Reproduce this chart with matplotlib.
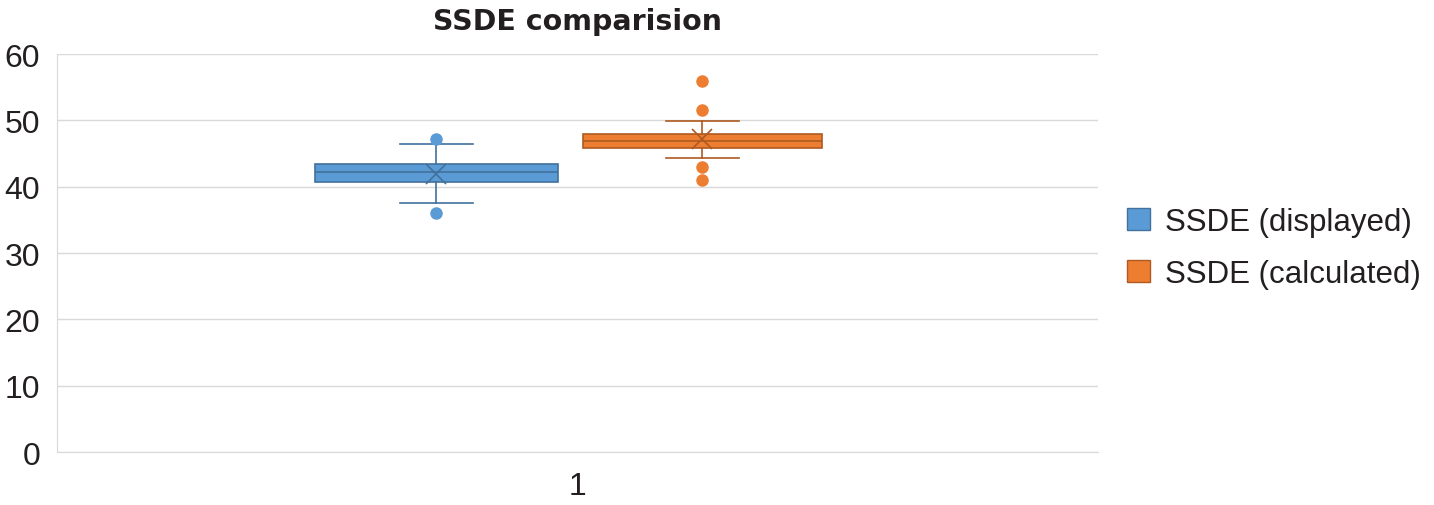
import matplotlib.pyplot as plt

# box statistics
SERIES = ['SSDE (displayed)', 'SSDE (calculated)']
Q1 = [40.7, 45.8]
MEDIAN = [42.2, 46.9]
Q3 = [43.4, 47.9]
WHISLO = [37.6, 44.3]
WHISHI = [46.5, 49.9]
MEAN = [41.9, 47.2]
FLIERS = [[47.2, 36.0], [55.9, 51.6, 42.9, 41.0]]
CATEGORY = ['1']

FACE = ['#5B9BD5', '#ED7D31']
EDGE = ['#41719C', '#AE5A21']
TEXT = '#231F20'

plt.rcParams['font.family'] = ['Liberation Sans', 'DejaVu Sans']

fig = plt.figure(figsize=(14.34, 5.06), dpi=100)
ax = fig.add_axes([0.0397, 0.1047, 0.726, 0.7866])

positions = [1 - 0.1355, 1 + 0.120]
widths = [0.233, 0.23]
for i in range(2):
    st = [dict(q1=Q1[i], med=MEDIAN[i], q3=Q3[i], whislo=WHISLO[i],
               whishi=WHISHI[i], mean=MEAN[i], fliers=FLIERS[i])]
    ax.bxp(st, positions=[positions[i]], widths=widths[i], patch_artist=True,
           showmeans=True, showcaps=True, manage_ticks=False,
           boxprops=dict(facecolor=FACE[i], edgecolor=EDGE[i], linewidth=1.2),
           medianprops=dict(color=EDGE[i], linewidth=1.2),
           whiskerprops=dict(color=EDGE[i], linewidth=1.2),
           capprops=dict(color=EDGE[i], linewidth=1.2),
           capwidths=0.07,
           meanprops=dict(marker='x', markeredgecolor=EDGE[i], markersize=14,
                          markeredgewidth=1.2),
           flierprops=dict(marker='o', markerfacecolor=FACE[i],
                           markeredgecolor=FACE[i], markersize=8))
    ax.bar(0, 0, color=FACE[i], edgecolor=EDGE[i], label=SERIES[i])

ax.set_xlim(0.5, 1.5)
ax.set_ylim(0, 60)
ax.set_yticks(range(0, 61, 10))
ax.set_xticks([1])
ax.set_xticklabels(CATEGORY)
ax.yaxis.grid(True, color='#D9D9D9', linewidth=1)
ax.set_axisbelow(True)
for s in ['top', 'right']:
    ax.spines[s].set_visible(False)
ax.spines['bottom'].set_color('#D9D9D9')
ax.spines['left'].set_color('#D9D9D9')
ax.tick_params(axis='both', length=0, labelsize=23, colors=TEXT)
ax.tick_params(axis='y', pad=12)
ax.tick_params(axis='x', pad=14)

ax.set_title('SSDE comparision', fontsize=20.5, fontweight='bold', color=TEXT,
             pad=18, family='DejaVu Sans')

ax.legend(loc='center left', bbox_to_anchor=(1.028, 0.513), frameon=False,
          borderaxespad=0, borderpad=0,
          fontsize=22.5, handlelength=0.72, handleheight=0.72, handletextpad=0.5,
          labelspacing=0.72, labelcolor=TEXT)

plt.savefig('out.png', dpi=100)
